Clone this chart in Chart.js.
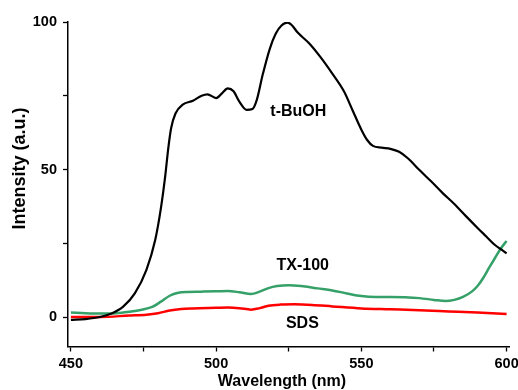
<!DOCTYPE html>
<html>
<head>
<meta charset="utf-8">
<script src="https://cdn.jsdelivr.net/npm/chart.js@4"></script>
<style>
  html, body { margin: 0; padding: 0; background: #fff; overflow: hidden; }
  #chart { display: block; }
</style>
</head>
<body>
<canvas id="chart" width="518" height="390"></canvas>
<script>
// Emission spectra
const buohWl = [450, 455, 460, 464, 468, 472, 476, 479, 481, 482.5, 483.5, 484.5, 486, 488.5, 492, 495, 497, 500, 502, 504, 506, 508, 510.5, 512.5, 514, 516, 518.5, 520.5, 522.5, 524.5, 526, 528, 532, 536, 540, 544, 547, 550, 552, 554, 557, 560, 563, 566, 570, 574, 578, 582, 586, 590, 593, 596, 598, 600];
const buohI = [-1.0, -0.7, 0, 1.2, 3.5, 8, 16, 26, 37, 48, 57, 64, 69, 72, 73.3, 75, 75.5, 74.2, 75.8, 77.5, 76.5, 73, 70.2, 70.5, 73.6, 82, 91, 96, 98.8, 99.8, 99, 96.5, 92.8, 88, 82.5, 76.5, 70, 63.5, 60, 58, 57.4, 57, 56, 53.8, 49.8, 46, 42, 38.3, 34.2, 30.2, 27.3, 24.4, 23, 21.6];

const txWl = [450, 455, 460, 465, 470, 474, 478, 481, 484, 487, 490, 495, 500, 504, 508, 512, 515, 518, 521, 525, 530, 535, 540, 545, 550, 555, 560, 565, 570, 575, 579, 582, 585, 588, 590, 592, 594, 596, 598, 600];
const txI = [1.5, 1.3, 1.2, 1.2, 1.8, 2.4, 3.4, 5.2, 7.2, 8.2, 8.5, 8.6, 8.7, 8.8, 8.4, 7.8, 8.6, 9.8, 10.5, 10.8, 10.4, 9.7, 9.0, 8.0, 7.1, 6.8, 6.8, 6.7, 6.4, 5.8, 5.4, 5.8, 6.8, 8.6, 10.5, 13.3, 16.7, 20, 23.2, 25.8];

const sdsWl = [450, 460, 470, 476, 480, 484, 488, 492, 500, 504, 508, 512, 515, 518, 522, 527, 533, 540, 550, 560, 570, 580, 590, 600];
const sdsI = [0, 0, 0.5, 0.8, 1.3, 2.2, 2.7, 2.9, 3.1, 3.2, 3.0, 2.5, 3.0, 3.8, 4.2, 4.3, 4.1, 3.6, 2.9, 2.6, 2.3, 1.9, 1.5, 1.0];

const xTicks = [450, 475, 500, 525, 550, 575, 600];
const yTicks = [0, 25, 50, 75, 100];

// curve labels: text, wavelength, intensity
const curveLabels = [
  ['t-BuOH', 528.3, 69.5],
  ['TX-100', 529.8, 17.5],
  ['SDS', 529.7, -2.4]
];

const FONT = 'Arial, "Liberation Sans", sans-serif';

function toPoints(xs, ys) {
  return xs.map((x, i) => ({ x: x, y: ys[i] }));
}

const labelPlugin = {
  id: 'labels',
  afterDatasetsDraw(chart) {
    const ctx = chart.ctx;
    const sx = chart.scales.x;
    const sy = chart.scales.y;
    ctx.save();
    ctx.fillStyle = '#000';
    ctx.textAlign = 'center';
    ctx.textBaseline = 'middle';
    ctx.font = 'bold 16px ' + FONT;
    curveLabels.forEach(l => {
      ctx.fillText(l[0], sx.getPixelForValue(l[1]), sy.getPixelForValue(l[2]));
    });
    // axis titles
    ctx.fillText('Wavelength (nm)', 282, 381.5);
    ctx.translate(20.5, 168.5);
    ctx.rotate(-Math.PI / 2);
    ctx.font = 'bold 18px ' + FONT;
    ctx.fillText('Intensity (a.u.)', 0, 0);
    ctx.restore();
  }
};

const ctx = document.getElementById('chart').getContext('2d');
new Chart(ctx, {
  type: 'line',
  data: {
    datasets: [
      { label: 't-BuOH', data: toPoints(buohWl, buohI), borderColor: '#000000', borderWidth: 2.2 },
      { label: 'TX-100', data: toPoints(txWl, txI), borderColor: '#35a068', borderWidth: 2.5 },
      { label: 'SDS', data: toPoints(sdsWl, sdsI), borderColor: '#ff0000', borderWidth: 2.5 }
    ]
  },
  options: {
    responsive: false,
    animation: false,
    elements: {
      point: { radius: 0 },
      line: { tension: 0.4, cubicInterpolationMode: 'monotone', fill: false }
    },
    layout: { padding: { left: 0, top: 22, right: 8.5, bottom: 0 } },
    plugins: {
      legend: { display: false },
      tooltip: { enabled: false }
    },
    scales: {
      x: {
        type: 'linear',
        min: 449,
        max: 601,
        afterBuildTicks: s => { s.ticks = xTicks.map(v => ({ value: v })); },
        afterFit: s => { s.height = 43.5; s.paddingLeft = 0; s.paddingRight = 0; },
        grid: { drawOnChartArea: false, drawTicks: true, tickLength: 5, tickColor: '#000', tickWidth: 1.3 },
        border: { display: true, color: '#000', width: 1.5 },
        ticks: {
          color: '#000',
          padding: 4,
          maxRotation: 0,
          font: { family: FONT, size: 14.5, weight: 'bold' },
          callback: v => (v % 50 === 0 ? v : '')
        }
      },
      y: {
        type: 'linear',
        min: -10,
        max: 100,
        afterBuildTicks: s => { s.ticks = yTicks.map(v => ({ value: v })); },
        afterFit: s => { s.width = 68; s.paddingTop = 0; s.paddingBottom = 0; },
        grid: { drawOnChartArea: false, drawTicks: true, tickLength: 5, tickColor: '#000', tickWidth: 1.3 },
        border: { display: true, color: '#000', width: 1.5 },
        ticks: {
          color: '#000',
          padding: 6,
          font: { family: FONT, size: 14.5, weight: 'bold' },
          callback: v => (v % 50 === 0 ? v : '')
        }
      }
    }
  },
  plugins: [labelPlugin]
});
</script>
</body>
</html>
